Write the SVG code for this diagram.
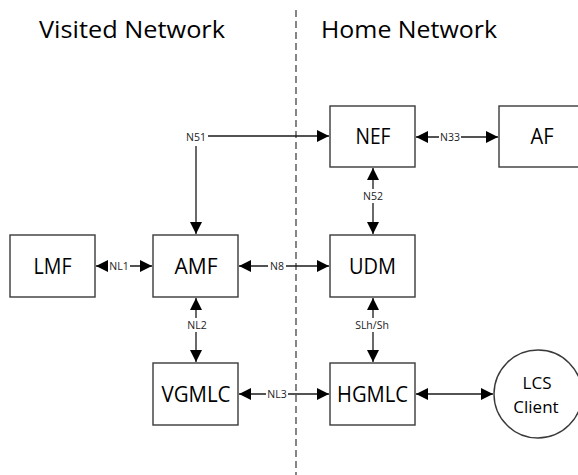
<svg xmlns="http://www.w3.org/2000/svg" width="578" height="475" viewBox="0 0 578 475">
<style>
.box{fill:#fff;stroke:#3a3a3a;stroke-width:1.4}
.ln{fill:none;stroke:#1a1a1a;stroke-width:1.3}
.big{font-family:"Open Sans","Noto Sans",sans-serif;font-size:22px;fill:#000;text-anchor:middle}
.mid{font-family:"Open Sans","Noto Sans",sans-serif;font-size:17px;fill:#000;text-anchor:middle}
.sm{font-family:"Open Sans","Noto Sans",sans-serif;font-size:10.5px;fill:#222;text-anchor:middle}
.bg{fill:#fff}
.title{font-family:"Open Sans","Noto Sans",sans-serif;font-size:24px;fill:#000}
</style>
<defs>
<marker id="ah" markerUnits="userSpaceOnUse" markerWidth="12" markerHeight="12" viewBox="0 0 10 10" refX="10" refY="5" orient="auto-start-reverse">
<path d="M0,0 L10,5 L0,10 Z" fill="#000"/>
</marker>
</defs>
<rect width="578" height="475" fill="#fff"/>
<text class="title" x="39" y="38" textLength="186" lengthAdjust="spacingAndGlyphs">Visited Network</text>
<text class="title" x="321" y="38" textLength="176" lengthAdjust="spacingAndGlyphs">Home Network</text>
<line x1="296" y1="10" x2="296" y2="475" stroke="#444" stroke-width="1.3" stroke-dasharray="7,4"/>
<g id="connectors">
<path class="ln" d="M196,234 L196,136 L329,136" marker-start="url(#ah)" marker-end="url(#ah)"/>
<line class="ln" x1="96" y1="266" x2="152" y2="266" marker-start="url(#ah)" marker-end="url(#ah)"/>
<line class="ln" x1="239" y1="266" x2="329" y2="266" marker-start="url(#ah)" marker-end="url(#ah)"/>
<line class="ln" x1="416" y1="137" x2="498" y2="137" marker-start="url(#ah)" marker-end="url(#ah)"/>
<line class="ln" x1="373" y1="168" x2="373" y2="234" marker-start="url(#ah)" marker-end="url(#ah)"/>
<line class="ln" x1="196" y1="298" x2="196" y2="362" marker-start="url(#ah)" marker-end="url(#ah)"/>
<line class="ln" x1="373" y1="298" x2="373" y2="362" marker-start="url(#ah)" marker-end="url(#ah)"/>
<line class="ln" x1="239" y1="394" x2="329" y2="394" marker-start="url(#ah)" marker-end="url(#ah)"/>
<line class="ln" x1="416" y1="394" x2="493" y2="394" marker-start="url(#ah)" marker-end="url(#ah)"/>
<rect class="bg" x="184" y="130" width="24" height="16"/><text class="sm" x="196" y="141">N51</text>
<rect class="bg" x="108" y="260" width="22" height="12"/><text class="sm" x="119" y="270">NL1</text>
<rect class="bg" x="268" y="260" width="18" height="12"/><text class="sm" x="277" y="270">N8</text>
<rect class="bg" x="439" y="131" width="22" height="12"/><text class="sm" x="450" y="141">N33</text>
<rect class="bg" x="366" y="189" width="14" height="14"/><text class="sm" x="373" y="200">N52</text>
<rect class="bg" x="190" y="318" width="14" height="14"/><text class="sm" x="197" y="329">NL2</text>
<rect class="bg" x="366" y="318" width="14" height="14"/><text class="sm" x="372" y="329">SLh/Sh</text>
<rect class="bg" x="266" y="388" width="22" height="12"/><text class="sm" x="277" y="398">NL3</text>
</g>
<g id="LMF"><rect class="box" x="10" y="235" width="85" height="62"/><text class="big" x="52.5" y="274" textLength="38" lengthAdjust="spacingAndGlyphs">LMF</text></g>
<g id="AMF"><rect class="box" x="153" y="235" width="85" height="62"/><text class="big" x="196" y="274" textLength="43" lengthAdjust="spacingAndGlyphs">AMF</text></g>
<g id="NEF"><rect class="box" x="330" y="106" width="85" height="61"/><text class="big" x="373" y="144" textLength="35" lengthAdjust="spacingAndGlyphs">NEF</text></g>
<g id="AF"><rect class="box" x="499" y="106" width="90" height="61"/><text class="big" x="542" y="144" textLength="23" lengthAdjust="spacingAndGlyphs">AF</text></g>
<g id="UDM"><rect class="box" x="330" y="235" width="85" height="62"/><text class="big" x="372.5" y="274" textLength="47" lengthAdjust="spacingAndGlyphs">UDM</text></g>
<g id="VGMLC"><rect class="box" x="153" y="363" width="85" height="62"/><text class="big" x="196" y="402" textLength="69" lengthAdjust="spacingAndGlyphs">VGMLC</text></g>
<g id="HGMLC"><rect class="box" x="330" y="363" width="85" height="62"/><text class="big" x="372.5" y="402" textLength="71" lengthAdjust="spacingAndGlyphs">HGMLC</text></g>
<g id="LCSClient"><circle class="box" cx="538" cy="394" r="44"/><text class="mid" x="537" y="389">LCS</text><text class="mid" x="536" y="413">Client</text></g>
</svg>
